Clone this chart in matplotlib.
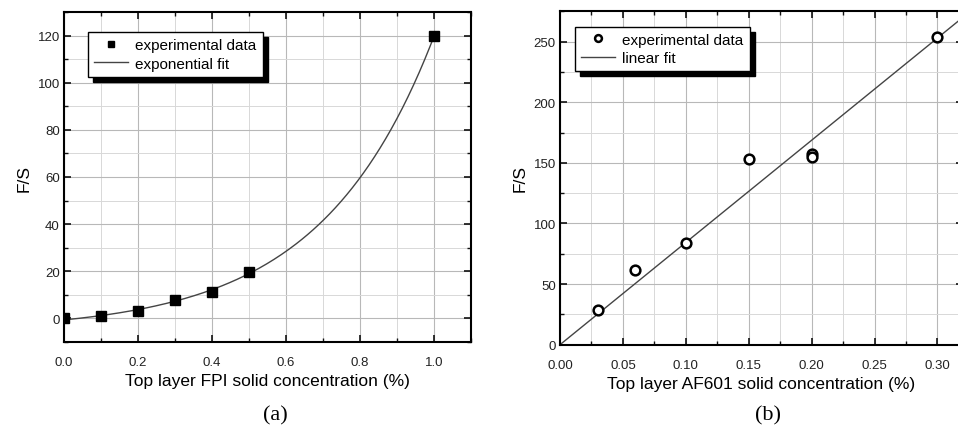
import matplotlib
matplotlib.use('Agg')
import matplotlib.pyplot as plt
from matplotlib.patches import Rectangle
from matplotlib.transforms import IdentityTransform
from matplotlib.ticker import MultipleLocator
import numpy as np

plt.rcParams['font.family'] = ['Liberation Sans', 'DejaVu Sans']

# panel (a): FPI
fpi_conc = [0.0, 0.1, 0.2, 0.3, 0.4, 0.5, 1.0]
fpi_fs = [0.0, 1.0, 3.0, 8.0, 11.3, 19.6, 119.7]

# panel (b): AF601
af_conc = [0.03, 0.06, 0.10, 0.15, 0.20, 0.20, 0.30]
af_fs = [29, 62, 84, 153, 157, 155, 254]

# exponential fit y = y0 + A*exp(x/t), grid search on t, linear lsq for A, y0
xa = np.array(fpi_conc)
ya = np.array(fpi_fs)
best = None
for t in np.linspace(0.1, 1.0, 901):
    M = np.column_stack([np.ones_like(xa), np.exp(xa / t)])
    coef, res, _, _ = np.linalg.lstsq(M, ya, rcond=None)
    err = np.sum((M @ coef - ya) ** 2)
    if best is None or err < best[0]:
        best = (err, t, coef)
_, t_fit, (y0_fit, a_fit) = best
xfit_a = np.linspace(0, 1.0, 200)
yfit_a = y0_fit + a_fit * np.exp(xfit_a / t_fit)

# linear fit through origin
xb = np.array(af_conc)
yb = np.array(af_fs, dtype=float)
slope = np.sum(xb * yb) / np.sum(xb * xb)
xfit_b = np.array([0.0, 0.32])
yfit_b = slope * xfit_b

W, H = 958, 431
fig = plt.figure(figsize=(W / 100, H / 100), dpi=100)
ax1 = fig.add_axes([64 / W, 1 - 343 / H, 407 / W, 330 / H])
ax2 = fig.add_axes([560 / W, 1 - 345.7 / H, 402.6 / W, 333.4 / H])


def style(ax, xmaj, xmin, ymaj, ymin):
    ax.xaxis.set_major_locator(MultipleLocator(xmaj))
    ax.xaxis.set_minor_locator(MultipleLocator(xmin))
    ax.yaxis.set_major_locator(MultipleLocator(ymaj))
    ax.yaxis.set_minor_locator(MultipleLocator(ymin))
    ax.grid(True, which='major', color='#b8b8b8', lw=0.8)
    ax.grid(True, which='minor', color='#d8d8d8', lw=0.7)
    ax.set_axisbelow(True)
    ax.tick_params(which='both', direction='in', top=True, right=True,
                   labelsize=9.5, labelcolor='#222222', color='#111111')
    ax.tick_params(which='major', length=5, width=1.2)
    ax.tick_params(which='minor', length=3, width=1.0)
    ax.tick_params(axis='x', which='major', pad=10)
    ax.tick_params(axis='y', which='major', pad=3)
    for s in ax.spines.values():
        s.set_linewidth(1.5)


style(ax1, 0.2, 0.1, 20, 10)
ax1.plot(xfit_a, yfit_a, color='#444444', lw=1.0, label='exponential fit')
ax1.plot(fpi_conc, fpi_fs, 's', color='black', ms=6.5, label='experimental data')
ax1.set_xlim(0, 1.1)
ax1.set_ylim(-10, 130)
ax1.set_xlabel('Top layer FPI solid concentration (%)', fontsize=12.5, labelpad=4)
ax1.set_ylabel('F/S', fontsize=12.5)
h, l = ax1.get_legend_handles_labels()
leg1 = ax1.legend(h[::-1], l[::-1], loc='upper left', bbox_to_anchor=(0.059, 0.939),
                  borderaxespad=0, fancybox=False, edgecolor='black', framealpha=1,
                  fontsize=11, handlelength=2.2, handletextpad=0.5, markerscale=0.7,
                  labelspacing=0.3)
leg1.get_frame().set_linewidth(1.0)

style(ax2, 0.05, 0.025, 50, 25)
ax2.plot(xfit_b, yfit_b, color='#444444', lw=1.0, label='linear fit')
ax2.plot(af_conc, af_fs, 'o', mfc='white', mec='black', mew=1.8, ms=7, label='experimental data')
ax2.set_xlim(0, 0.32)
ax2.set_ylim(0, 275)
ax2.set_xticks([0.0, 0.05, 0.10, 0.15, 0.20, 0.25, 0.30])
ax2.xaxis.set_major_formatter(matplotlib.ticker.FormatStrFormatter('%.2f'))
ax2.set_xlabel('Top layer AF601 solid concentration (%)', fontsize=12.5, labelpad=4)
ax2.set_ylabel('F/S', fontsize=12.5)
ax2.spines['right'].set_visible(False)
h, l = ax2.get_legend_handles_labels()
leg2 = ax2.legend(h[::-1], l[::-1], loc='upper left', bbox_to_anchor=(0.037, 0.954),
                  borderaxespad=0, fancybox=False, edgecolor='black', framealpha=1,
                  fontsize=11, handlelength=2.2, handletextpad=0.5, markerscale=0.7,
                  labelspacing=0.3)
leg2.get_frame().set_linewidth(1.0)

fig.text(275 / W, 1 - 416 / H, '(a)', ha='center', va='center', fontsize=16,
         family='Liberation Serif')
fig.text(768 / W, 1 - 416 / H, '(b)', ha='center', va='center', fontsize=16,
         family='Liberation Serif')

# black drop shadow behind legends
fig.canvas.draw()
for ax, leg in [(ax1, leg1), (ax2, leg2)]:
    bb = leg.get_window_extent()
    sh = Rectangle((bb.x0 + 5, bb.y0 - 5), bb.width, bb.height, transform=IdentityTransform(),
                   color='black', zorder=leg.get_zorder() - 0.5)
    ax.add_artist(sh)

fig.savefig('out.png', dpi=100)
